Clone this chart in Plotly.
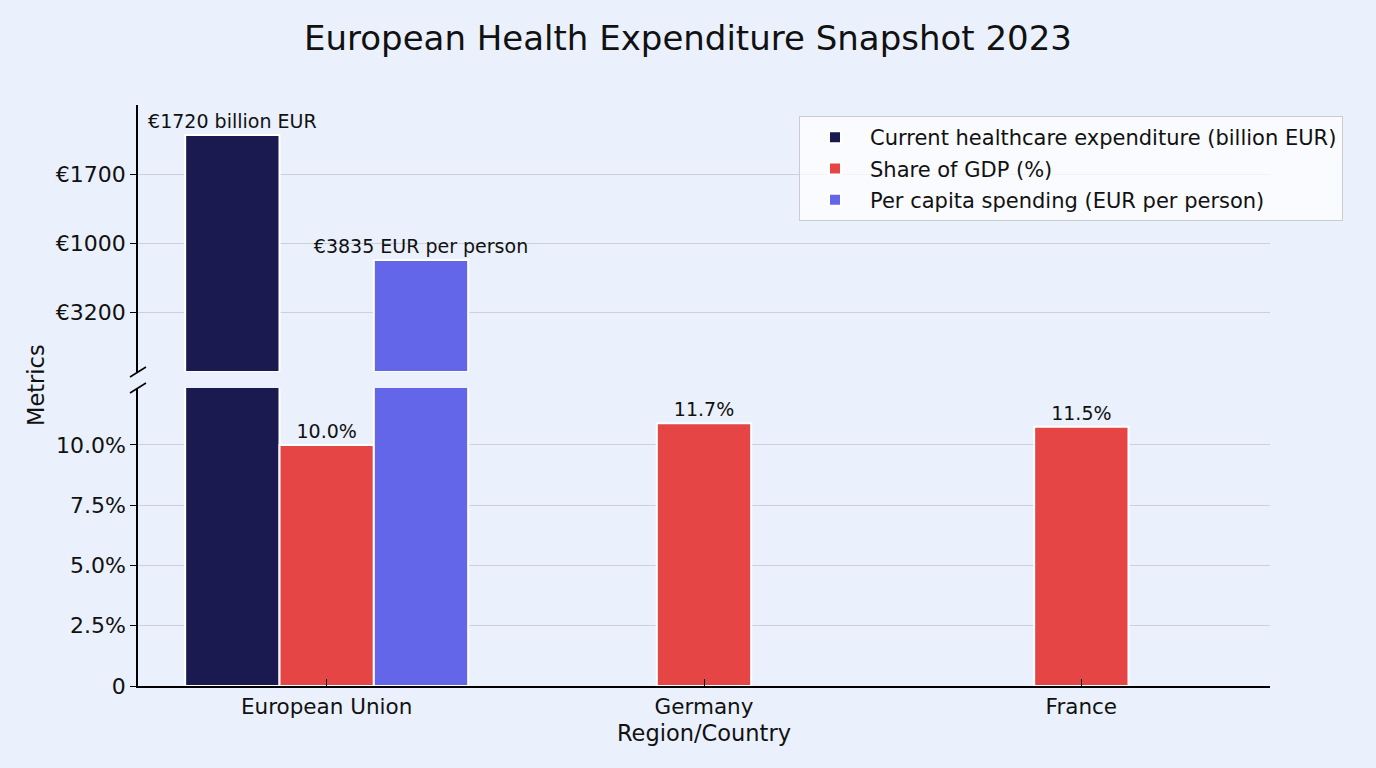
import plotly.graph_objects as go

regions = ["European Union", "Germany", "France"]
expenditure_bn = [1720, None, None]
gdp_share_bar = [10.0, 10.9, 10.75]
gdp_share_labels = ["10.0%", "11.7%", "11.5%"]
per_capita_eur = [3835, None, None]
expenditure_labels = ["€1720 billion EUR", "", ""]
per_capita_labels = ["€3835 EUR per person", "", ""]
top_tick_text = ["€3200", "€1000", "€1700"]
bottom_tick_vals = [0, 2.5, 5.0, 7.5, 10.0]
bottom_tick_text = ["0", "2.5%", "5.0%", "7.5%", "10.0%"]

C_EXP = "#1a1a50"
C_GDP = "#e64545"
C_PC = "#6366e8"
BG = "#eaf0fc"
FONT = "DejaVu Sans"

L, R, T, B = 138, 106, 105, 82
W, H = 1376, 768
ph = H - T - B
pw = W - L - R
top_dom = [(H - B - 372) / ph, 1.0]
bot_dom = [0.0, (H - B - 388) / ph]

# top panel scales (each series on its own overlaid axis)
exp_max = 1720 * 267 / 237
pc_max = 3835 * 267 / 112
top_tick_vals = [exp_max * (372 - y) / 267 for y in (312, 243, 174)]

bw = 0.25
line = dict(color="white", width=2)
lblfont = dict(family=FONT, size=19, color="#111")
fig = go.Figure()

# bottom panel
fig.add_bar(x=regions, y=expenditure_bn, xaxis="x", yaxis="y", marker=dict(color=C_EXP, line=line),
            width=bw, offset=-0.375, showlegend=False, hoverinfo="skip")
fig.add_bar(x=regions, y=gdp_share_bar, xaxis="x", yaxis="y", marker=dict(color=C_GDP, line=line),
            width=bw, offset=-0.125, name="Share of GDP (%)", legendrank=2, legendgroup="g2",
            text=gdp_share_labels, textposition="outside", constraintext="none", cliponaxis=False,
            textfont=lblfont)
fig.add_bar(x=regions, y=per_capita_eur, xaxis="x", yaxis="y", marker=dict(color=C_PC, line=line),
            width=bw, offset=0.125, showlegend=False, hoverinfo="skip")

# top panel
fig.add_bar(x=regions, y=expenditure_bn, xaxis="x2", yaxis="y2", marker=dict(color=C_EXP, line=line),
            width=bw, offset=-0.375, name="Current healthcare expenditure (billion EUR)", legendrank=1,
            legendgroup="g1",
            text=expenditure_labels, textposition="outside", constraintext="none", cliponaxis=False,
            textfont=lblfont)
fig.add_bar(x=regions, y=per_capita_eur, xaxis="x2", yaxis="y3", marker=dict(color=C_PC, line=line),
            width=bw, offset=0.125, name="Per capita spending (EUR per person)", legendrank=3,
            legendgroup="g3",
            text=per_capita_labels, textposition="outside", constraintext="none", cliponaxis=False,
            textfont=lblfont)

axfont = dict(family=FONT, size=22, color="#111")
fig.update_layout(
    width=W, height=H,
    margin=dict(l=L, r=R, t=T, b=B),
    paper_bgcolor=BG, plot_bgcolor=BG,
    font=dict(family=FONT, color="#111"),
    title=dict(text="European Health Expenditure Snapshot 2023", x=0.5, xref="container",
               y=1 - 38 / H, yanchor="middle", font=dict(family=FONT, size=34, color="#111")),
    barmode="overlay",
    xaxis=dict(domain=[0, 1], anchor="y", type="category", range=[-0.5, 2.5],
               showline=True, linecolor="black", linewidth=1.5, ticks="inside", ticklen=7,
               tickcolor="black", tickfont=dict(family=FONT, size=21.5, color="#111"),
               title=dict(text="Region/Country", font=dict(family=FONT, size=22.5, color="#111"), standoff=8),
               showgrid=False, zeroline=False),
    yaxis=dict(domain=bot_dom, anchor="x", range=[0, 12.36], tickvals=bottom_tick_vals,
               ticktext=bottom_tick_text, showline=True, linecolor="black", linewidth=1.5,
               ticks="outside", ticklen=6, tickcolor="black", tickfont=axfont,
               showgrid=True, gridcolor="#cdd0d8", gridwidth=1, zeroline=False),
    xaxis2=dict(domain=[0, 1], anchor="y2", type="category", range=[-0.5, 2.5], matches="x",
                showticklabels=False, showline=False, showgrid=False, zeroline=False, ticks=""),
    yaxis2=dict(domain=top_dom, anchor="x2", range=[0, exp_max], tickvals=top_tick_vals,
                ticktext=top_tick_text, showline=True, linecolor="black", linewidth=1.5,
                ticks="outside", ticklen=6, tickcolor="black", tickfont=axfont,
                showgrid=True, gridcolor="#cdd0d8", gridwidth=1, zeroline=False),
    yaxis3=dict(overlaying="y2", anchor="x2", range=[0, pc_max], visible=False, showgrid=False),
    legend=dict(x=(1343 - L) / pw, xanchor="right", y=(H - B - 116) / ph, yanchor="top",
                bgcolor="rgba(255,255,255,0.75)", bordercolor="#cccccc", borderwidth=1,
                font=dict(family=FONT, size=21, color="#111"), traceorder="grouped",
                itemwidth=60, tracegroupgap=1),
    annotations=[dict(text="Metrics", xref="paper", yref="paper", x=-(L - 36) / pw, y=(H - B - 385) / ph,
                      showarrow=False, textangle=-90, font=dict(family=FONT, size=22.5, color="#111"),
                      xanchor="center", yanchor="middle")],
)

# break marks on the left spine
for yp in (372, 388):
    fig.add_shape(type="line", xref="paper", yref="paper",
                  x0=-8 / pw, x1=8 / pw,
                  y0=(H - B - yp - 5) / ph, y1=(H - B - yp + 5) / ph,
                  line=dict(color="black", width=1.5))

fig.write_html("out.html")
